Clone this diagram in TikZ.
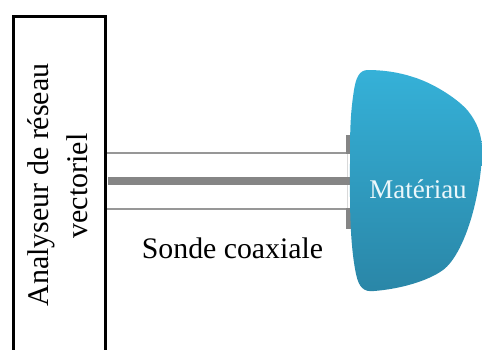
\documentclass[tikz,border=0pt]{standalone}
\usepackage{fontspec}
\setmainfont{Liberation Serif}
\definecolor{blobtop}{HTML}{35B1D8}
\definecolor{blobbot}{HTML}{2A86A7}
\definecolor{probe}{HTML}{858585}
\tikzset{
  probeline/.style={draw=probe!85,line width=2pt},
  coreline/.style={draw=probe,line width=8pt},
  stub/.style={fill=probe,draw=none},
  label/.style={inner sep=0pt,font=\fontsize{#1}{#1}\selectfont}
}
\begin{document}
\begin{tikzpicture}[x=1pt,y=-1pt]
\useasboundingbox (0,0) rectangle (482,349);
\fill[white] (0,0) rectangle (482,349);
% analyser box, open at the bottom of the picture
\draw[black,line width=3pt,miter limit=10] (13.5,352) -- (13.5,16.5) -- (105.5,16.5) -- (105.5,352);
\node[label=30,rotate=90] (ana1) at (41,185) {Analyseur de réseau};
\node[label=30,rotate=90] (ana2) at (77,186) {vectoriel};
% probe
\coordinate (t1) at (107,153);
\coordinate (t2) at (347,153);
\coordinate (c1) at (108,181);
\coordinate (c2) at (352,181);
\coordinate (b1) at (107,209);
\coordinate (b2) at (347,209);
\draw[draw=black!15,line width=1pt] (t2) -- (b2);
\draw[probeline] (t1) -- (t2);
\draw[probeline] (b1) -- (b2);
\draw[coreline] (c1) -- (c2);
\fill[stub] (345.5,135) rectangle (352,154);
\fill[stub] (345.5,208) rectangle (352,229);
% material
\path[top color=blobtop,bottom color=blobbot,draw=none]
  (368,70) .. controls (359,70) and (356,78) .. (354,90)
  .. controls (350,115) and (350,135) .. (350,160)
  .. controls (350,195) and (349,240) .. (356,274)
  .. controls (359,288) and (364,292) .. (374,291)
  .. controls (400,289) and (428,281) .. (443,270)
  .. controls (454,262) and (466,240) .. (474,208)
  .. controls (478,192) and (482,170) .. (482,150)
  .. controls (482,135) and (477,122) .. (468,111)
  .. controls (460,101) and (436,84) .. (413,77)
  .. controls (398,72) and (382,70) .. (368,70) -- cycle;
\node[label=27,text=white!90!blobtop] (mat) at (418,189) {Matériau};
\node[label=29.8] (sonde) at (232.5,248) {Sonde coaxiale};
\end{tikzpicture}
\end{document}
